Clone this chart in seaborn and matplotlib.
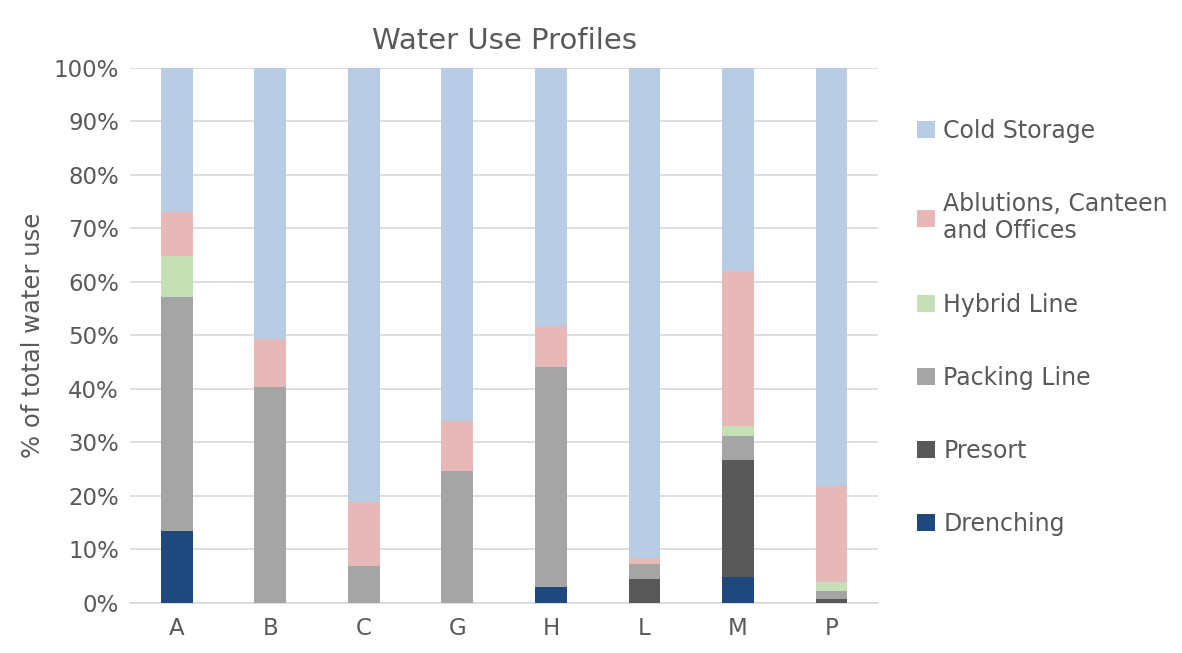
import numpy as np
import matplotlib
matplotlib.use("Agg")
import matplotlib.pyplot as plt
import seaborn as sns
from matplotlib.patches import Patch
from matplotlib.ticker import FuncFormatter

# -------------------------------
# data (percent of total water use)
# -------------------------------
sites = ["A", "B", "C", "G", "H", "L", "M", "P"]
drenching = [13.5, 0.0, 0.0, 0.0, 2.9, 0.0, 4.8, 0.0]
presort = [0.0, 0.0, 0.0, 0.0, 0.0, 4.4, 21.9, 0.8]
packing_line = [43.6, 40.4, 6.9, 24.7, 41.3, 2.9, 4.5, 1.4]
hybrid_line = [7.8, 0.0, 0.0, 0.0, 0.0, 0.0, 1.8, 1.8]
ablutions = [8.2, 8.9, 12.0, 9.3, 7.6, 1.2, 29.1, 17.9]
cold_storage = [26.9, 50.7, 81.1, 66.0, 48.2, 91.5, 37.9, 78.1]

series_names = ["Drenching", "Presort", "Packing Line", "Hybrid Line",
                "Ablutions, Canteen\nand Offices", "Cold Storage"]
series_vals = [drenching, presort, packing_line, hybrid_line, ablutions, cold_storage]
series_colors = ["#1F497D", "#595959", "#A5A5A5", "#C5E0B4", "#E6B8B7", "#B8CCE4"]

TXT = "#595959"

sns.set_theme(style="white")
plt.rcParams['font.family'] = ['DejaVu Sans']

fig = plt.figure(figsize=(11.82, 6.53), dpi=100)
ax = fig.add_axes([0.110, 0.0766, 0.633, 0.8193])

# stack the series bottom-up
bottom = np.zeros(len(sites))
for name, vals, col in zip(series_names, series_vals, series_colors):
    sns.barplot(x=sites, y=vals, bottom=bottom, color=col, width=0.34,
                linewidth=0, saturation=1, ax=ax, zorder=3)
    bottom = bottom + np.array(vals)

ax.set_ylim(0, 100)
ax.set_xlim(-0.5, 7.5)
ax.set_yticks(np.arange(0, 101, 10))
ax.yaxis.set_major_formatter(FuncFormatter(lambda v, p: f"{int(v)}%"))
ax.grid(axis="y", color="#D9D9D9", linewidth=1.2, zorder=0)
ax.set_axisbelow(True)
for s in ["top", "right", "left"]:
    ax.spines[s].set_visible(False)
ax.spines["bottom"].set_color("#D9D9D9")
ax.spines["bottom"].set_linewidth(1.2)
ax.tick_params(axis="both", length=0, labelsize=16.5, colors=TXT, pad=8)
ax.tick_params(axis="x", pad=10)

ax.set_ylabel("% of total water use", fontsize=17.5, color=TXT, labelpad=6)
ax.set_xlabel("")
ax.set_title("Water Use Profiles", fontsize=21, color=TXT, pad=14)

handles = [Patch(facecolor=c, edgecolor="none") for c in series_colors][::-1]
labels = series_names[::-1]
leg = fig.legend(handles, labels, loc="upper left", bbox_to_anchor=(0.758, 0.851),
                 frameon=False, fontsize=17, labelcolor=TXT, labelspacing=2.08,
                 handlelength=0.75, handleheight=0.75, handletextpad=0.35)

fig.savefig("out.png", dpi=100)
